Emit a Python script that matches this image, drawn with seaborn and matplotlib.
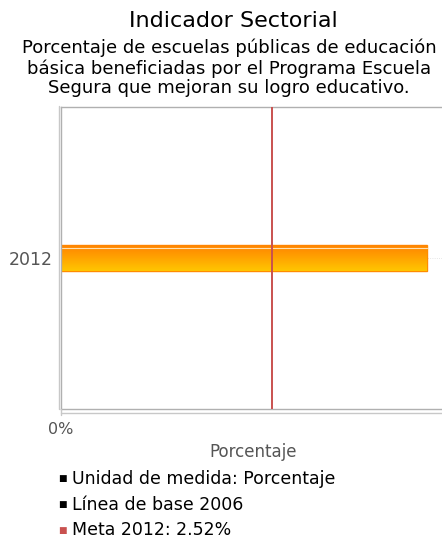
import numpy as np
import pandas as pd
import seaborn as sns
import matplotlib.pyplot as plt
from matplotlib.colors import LinearSegmentedColormap
from matplotlib.lines import Line2D

# data
years = ["2012"]
values = [4.37]
meta = 2.52
x_max = 4.59
notes = ["Unidad de medida: Porcentaje", "Línea de base 2006", "Meta 2012: 2.52%"]
note_colors = ["black", "black", "#c9514f"]

title = "Indicador Sectorial"
subtitle = ("Porcentaje de escuelas públicas de educación\n"
            "básica beneficiadas por el Programa Escuela\n"
            "Segura que mejoran su logro educativo.")

sns.set_theme(style="white")
plt.rcParams['font.family'] = ['DejaVu Sans']

df = pd.DataFrame({"anio": years, "valor": values})

W, H = 442, 539
fig = plt.figure(figsize=(W / 100, H / 100), dpi=100)
ax = fig.add_axes([61 / W, 1 - 409 / H, 384 / W, 302 / H])

sns.barplot(data=df, x="valor", y="anio", orient="h", ax=ax,
            width=0.086, color="#ffa500", edgecolor="#ff8c00", linewidth=1)

# gradient fill on the bar
cmap = LinearSegmentedColormap.from_list("bar", ["#ff8400", "#ffa400", "#ffc600"])
for p in ax.patches:
    x0, y0 = p.get_x(), p.get_y()
    w, h = p.get_width(), p.get_height()
    grad = np.linspace(0, 1, 64).reshape(-1, 1)
    im = ax.imshow(grad, cmap=cmap, aspect="auto",
                   extent=[x0, x0 + w, y0 + h, y0], zorder=p.get_zorder() + 0.1)
    im.set_clip_path(p)
    ax.plot([x0, x0 + w], [y0 + h * 0.12, y0 + h * 0.12], color="#ffe0b0",
            lw=0.8, zorder=p.get_zorder() + 0.2)

ax.axhline(0, color="#dddddd", lw=0.6, ls=":", zorder=0)
ax.axvline(meta, color="#c9514f", lw=1.4, zorder=5)

ax.set_xlim(0, x_max)
ax.set_ylim(0.5, -0.5)
ax.set_xticks([0])
ax.set_xticklabels(["0%"])
ax.tick_params(axis="x", labelsize=11.5, labelcolor="#555555", length=0, pad=9)
ax.tick_params(axis="y", labelsize=12.5, labelcolor="#555555", length=0, pad=6)
ax.set_xlabel("Porcentaje", fontsize=12, color="#555555", labelpad=5)
ax.set_ylabel("")
for s in ax.spines.values():
    s.set_color("#b0b0b0")
    s.set_linewidth(1)
ax.spines["right"].set_visible(False)

# outer frame lines of the plot box
frame = "#c8c8c8"
fig.add_artist(Line2D([58.5 / W, 58.5 / W], [1 - 106 / H, 1 - 409 / H], color=frame, lw=1))
fig.add_artist(Line2D([61 / W, 1], [1 - 412.5 / H, 1 - 412.5 / H], color=frame, lw=1))
fig.add_artist(Line2D([61 / W, 61 / W], [1 - 409 / H, 1 - 415 / H], color=frame, lw=1))

fig.text(0.527, 1 - 21 / H, title, ha="center", va="center", fontsize=16, color="black")
fig.text(0.518, 1 - 68 / H, subtitle, ha="center", va="center", fontsize=13,
         color="black", linespacing=1.14)

for i, (t, c) in enumerate(zip(notes, note_colors)):
    yy = 1 - (479 + i * 25.5) / H
    fig.text(58 / W, yy, "■", ha="left", va="center", fontsize=6.5, color=c)
    fig.text(72 / W, yy, t, ha="left", va="center", fontsize=12.5, color="black")

fig.savefig("out.png", dpi=100)
